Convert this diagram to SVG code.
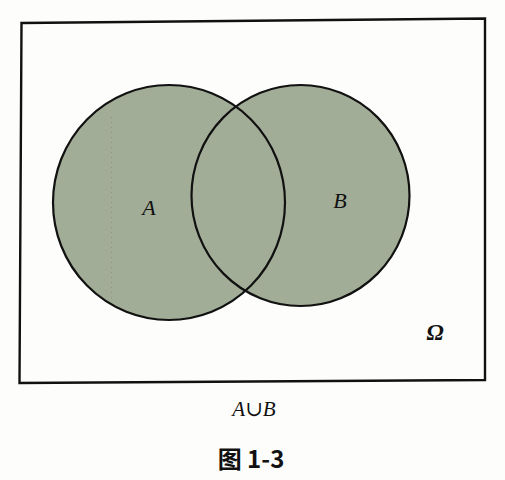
<svg xmlns="http://www.w3.org/2000/svg" width="505" height="480" viewBox="0 0 505 480">
<style>
.set{fill:#a2ad97;stroke:none}
.edge{fill:none;stroke:#111;stroke-width:2.2}
.lbl{font-family:"Liberation Serif","DejaVu Serif",serif;font-style:italic;fill:#111}
</style>
<rect width="505" height="480" fill="#fdfdfb"/>
<g id="omega">
<polygon points="21.5,23 485,18.5 485,380 19.5,383" fill="none" stroke="#111" stroke-width="2.4"/>
<text class="lbl" x="435" y="340" font-size="23" font-weight="bold" text-anchor="middle">Ω</text>
</g>
<g id="fill">
<ellipse class="set" cx="169" cy="202.5" rx="116" ry="117.5"/>
<ellipse class="set" cx="300.5" cy="195.5" rx="109" ry="110.5"/>
<line x1="111.5" y1="117" x2="111.5" y2="300" stroke="#8a7f70" stroke-width="1" stroke-dasharray="1,4" opacity="0.7"/>
</g>
<g id="setA">
<ellipse class="edge" cx="169" cy="202.5" rx="116" ry="117.5"/>
<text class="lbl" x="149" y="214.5" font-size="22" text-anchor="middle">A</text>
</g>
<g id="setB">
<ellipse class="edge" cx="300.5" cy="195.5" rx="109" ry="110.5"/>
<text class="lbl" x="340" y="207.5" font-size="22" text-anchor="middle">B</text>
</g>
<g id="caption">
<text class="lbl" x="254" y="415.5" font-size="21" text-anchor="middle">A<tspan font-style="normal">∪</tspan>B</text>
<text x="251" y="468" font-size="24" font-weight="bold" text-anchor="middle" font-family="'Noto Sans CJK SC','Noto Sans',sans-serif" fill="#111">图 1-3</text>
</g>
</svg>
